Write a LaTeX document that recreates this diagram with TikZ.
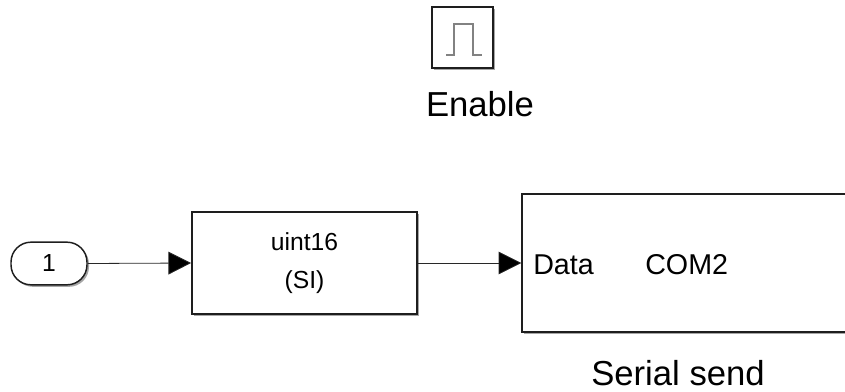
\documentclass[tikz,border=0pt]{standalone}
\usepackage{fontspec}
\setmainfont{Liberation Sans}
\usetikzlibrary{arrows.meta,shadows}
\begin{document}
\begin{tikzpicture}[x=0.75pt,y=-0.75pt,scale=1,
        blk/.style={draw={rgb, 255:red, 30; green, 30; blue, 30 },line width=1.1pt,fill=white,inner sep=0pt,drop shadow={shadow xshift=1.5pt,shadow yshift=-1.5pt,opacity=0.35,fill=black}},
        blktext/.style={font=\fontsize{18.5}{28}\selectfont,inner sep=0pt},
        caption/.style={font=\fontsize{26}{30}\selectfont,inner sep=0pt},
        wire/.style={draw={rgb, 255:red, 40; green, 40; blue, 40 },line width=0.6pt,-{Triangle[length=17pt,width=17pt,fill=black]}}]
    \path [use as bounding box,clip] (0,0) rectangle (845,392);
    \draw (462.5,37.5) node [blk,minimum width=46pt,minimum height=46pt] (enableblk) {};
    \draw [color={rgb, 255:red, 130; green, 130; blue, 130 },line width=0.8pt] (446,55) -- (454,55) -- (454,24) -- (473,24) -- (473,55) -- (482,55) ;
    \draw (480,104) node [caption] (enablelbl) {Enable};
    \draw (49,263.5) node [blk,rounded corners=15pt,minimum width=57pt,minimum height=32pt,blktext] (port) {1};
    \draw (304.5,263) node [blk,blktext,align=center,minimum width=169pt,minimum height=76.5pt] (convert) {uint16\\(SI)};
    \draw (692,263) node [blk,minimum width=255pt,minimum height=103.5pt] (serial) {};
    \draw (533,274) node [blktext,font=\fontsize{21.5}{26}\selectfont,anchor=base west] (datalbl) {Data};
    \draw (645,274) node [blktext,font=\fontsize{21.5}{26}\selectfont,anchor=base west] (comlbl) {COM2};
    \draw (678,373) node [caption] (seriallbl) {Serial send};
    \draw [wire] (port.east) -- (convert.west) ;
    \draw [wire] (convert.east) -- (serial.west) ;
\end{tikzpicture}
\end{document}
